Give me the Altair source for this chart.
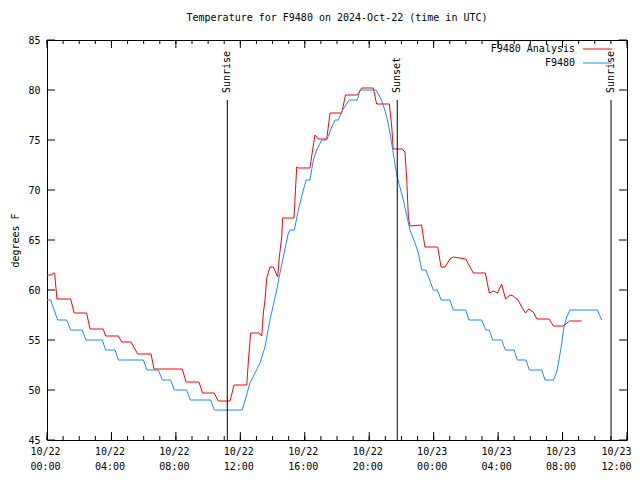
import altair as alt
import pandas as pd

# Hours since 2024-10-22 00:00 UTC and temperature (deg F)
blue_h = [0.00, 0.23, 0.66, 1.22, 1.47, 2.19, 2.42, 3.43, 3.64, 4.22, 4.43, 5.98, 6.21, 6.91,
          7.16, 7.68, 7.90, 8.67, 8.89, 10.16, 10.38, 12.12, 12.60, 13.22, 13.53, 13.84, 14.26,
          14.46, 14.67, 14.98, 15.08, 15.35, 15.60, 15.91, 16.08, 16.32, 16.53, 16.74, 17.05,
          17.36, 17.67, 17.88, 18.08, 18.35, 18.75, 19.26, 19.43, 20.42, 20.67, 20.87, 21.09,
          21.29, 21.49, 21.71, 21.87, 22.12, 22.43, 22.53, 22.84, 23.05, 23.26, 23.52, 23.98,
          24.23, 24.46, 25.01, 25.22, 25.99, 26.19, 26.98, 27.23, 27.45, 27.66, 28.22, 28.45,
          28.99, 29.19, 29.73, 29.94, 30.71, 30.91, 31.43, 31.64, 31.78, 31.95, 32.09, 32.26,
          32.46, 34.16, 34.43]
blue_t = [59, 59, 57, 57, 56, 56, 55, 55, 54, 54, 53, 53, 52, 52,
          51, 51, 50, 50, 49, 49, 48, 48, 50.7, 52.7, 54.3, 57, 60,
          61.7, 63.3, 65.7, 66, 66, 68, 70, 71, 71, 73, 74, 75,
          75, 76.3, 77, 77, 78, 79, 79, 80, 80, 79.3, 78.5, 77.3,
          75.7, 73.7, 71.5, 70.5, 69, 66.7, 66, 64.7, 63.7, 62, 62, 60,
          60, 59, 59, 58, 58, 57, 57, 56, 56, 55, 55, 54,
          54, 53, 53, 52, 52, 51, 51, 51.8, 53, 54.7, 56.3, 57.3,
          58, 58, 57]

red_h = [0.00, 0.29, 0.39, 0.47, 0.62, 1.47, 1.69, 2.46, 2.67, 3.49, 3.64, 4.43, 4.64, 5.21,
         5.63, 6.46, 6.64, 8.40, 8.63, 9.43, 9.66, 10.38, 10.63, 11.36, 11.61, 12.40, 12.49,
         12.64, 13.18, 13.33, 13.43, 13.53, 13.64, 13.84, 14.05, 14.32, 14.42, 14.57, 14.63,
         15.33, 15.50, 15.61, 16.32, 16.63, 16.84, 17.36, 17.57, 18.29, 18.53, 19.26, 19.53,
         20.25, 20.46, 21.25, 21.40, 21.49, 22.05, 22.22, 22.33, 22.43, 22.53, 23.25, 23.46,
         24.25, 24.46, 24.71, 25.01, 25.22, 25.99, 26.46, 27.21, 27.45, 27.70, 27.96, 28.22,
         28.46, 28.74, 28.94, 29.23, 29.47, 29.70, 29.90, 30.18, 30.41, 31.16, 31.43, 32.05,
         32.43, 33.19]
red_t = [61.5, 61.5, 61.7, 61.7, 59.1, 59.1, 57.7, 57.7, 56.1, 56.1, 55.4, 55.4, 54.8, 54.8,
         53.6, 53.6, 52.1, 52.1, 50.8, 50.8, 49.7, 49.7, 48.9, 48.9, 50.5, 50.5, 52.7,
         55.7, 55.7, 55.4, 57.7, 59, 61.2, 62.3, 62.3, 61.3, 63.3, 65.3, 67.2,
         67.2, 72.3, 72.2, 72.2, 75.5, 75.1, 75.1, 77.7, 77.7, 79.5, 79.5, 80.2,
         80.2, 78.6, 78.6, 76.3, 74.1, 74.1, 73.8, 71, 67.3, 66.4, 66.5, 64.3,
         64.3, 62.3, 62.3, 63.1, 63.3, 63.1, 61.7, 61.7, 59.7, 59.9, 59.7, 60.6,
         59.1, 59.5, 59.4, 59.0, 58.3, 57.7, 58.1, 57.8, 57.1, 57.1, 56.4, 56.4,
         56.9, 56.9]

event_h = [11.19, 21.74, 35.01]
event_lbl = ["Sunrise", "Sunset", "Sunrise"]

series_names = ["F9480 Analysis", "F9480"]
series_colors = ["#ff0000", "#1a8cff"]

x_major = list(range(0, 37, 4))
x_minor = list(range(0, 37, 1))
y_major = list(range(45, 86, 5))

W, H = 580, 400
FONT = "DejaVu Sans Mono"
FS = 10

df = pd.concat([
    pd.DataFrame({"h": red_h, "t": red_t, "s": series_names[0]}),
    pd.DataFrame({"h": blue_h, "t": blue_t, "s": series_names[1]}),
])
ev = pd.DataFrame({"h": event_h, "lbl": event_lbl})
xmaj = pd.DataFrame({"h": x_major})
xmin = pd.DataFrame({"h": x_minor})
ymaj = pd.DataFrame({"t": y_major})

xs = alt.Scale(domain=[0, 36], nice=False, zero=False)
ys = alt.Scale(domain=[45, 85], nice=False, zero=False)

label_expr = ("[datum.value < 24 ? '10/22' : '10/23', "
              "(datum.value % 24 < 10 ? '0' : '') + (datum.value % 24) + ':00']")

ax_x = alt.Axis(
    values=x_major, labelExpr=label_expr, ticks=False, domain=False, grid=False,
    labelFont=FONT, labelFontSize=FS, labelColor="black", labelPadding=6,
    labelLineHeight=15, labelFlush=False, labelOverlap=False, labelBound=False,
    labelAlign={"condition": {"test": "datum.value == 36", "value": "right"}, "value": "center"},
    labelOffset={"condition": {"test": "datum.value == 36", "value": 4}, "value": -2},
    title=None)
ax_y = alt.Axis(
    values=y_major, ticks=False, domain=False, grid=False,
    labelFont=FONT, labelFontSize=FS, labelColor="black", labelPadding=7,
    labelOverlap=False, labelFlush=False,
    title="degrees F", titleFont=FONT, titleFontSize=FS, titleFontWeight="normal",
    titleColor="black", titleAngle=270, titleX=-32, titleY=H / 2,
    titleAlign="center", titleBaseline="middle")

X = alt.X("h:Q", scale=xs, axis=ax_x, title=None)
Y = alt.Y("t:Q", scale=ys, axis=ax_y, title="degrees F")

lines = alt.Chart(df).mark_line(strokeWidth=1, clip=True).encode(
    x=X, y=Y,
    color=alt.Color("s:N", scale=alt.Scale(domain=series_names, range=series_colors), legend=None),
)

tick_bot_major = alt.Chart(xmaj).mark_rule(color="black", strokeWidth=1).encode(
    x=X, y=alt.value(H), y2=alt.value(H - 8))
tick_top_major = alt.Chart(xmaj).mark_rule(color="black", strokeWidth=1).encode(
    x=X, y=alt.value(0), y2=alt.value(8))
tick_bot_minor = alt.Chart(xmin).mark_rule(color="black", strokeWidth=1).encode(
    x=X, y=alt.value(H), y2=alt.value(H - 4))
tick_top_minor = alt.Chart(xmin).mark_rule(color="black", strokeWidth=1).encode(
    x=X, y=alt.value(0), y2=alt.value(4))
tick_left = alt.Chart(ymaj).mark_rule(color="black", strokeWidth=1).encode(
    y=Y, x=alt.value(0), x2=alt.value(8))
tick_right = alt.Chart(ymaj).mark_rule(color="black", strokeWidth=1).encode(
    y=Y, x=alt.value(W - 8), x2=alt.value(W))

ev_rule = alt.Chart(ev).mark_rule(color="black", strokeWidth=1).encode(
    x=X, y=alt.value(60), y2=alt.value(H))
ev_text = alt.Chart(ev).mark_text(angle=270, align="left", baseline="middle",
                                  font=FONT, fontSize=FS, color="black").encode(
    x=X, y=alt.value(53), text="lbl:N")

leg_df = pd.DataFrame({"s": series_names, "c": series_colors})
leg_text1 = alt.Chart(leg_df.iloc[[0]]).mark_text(align="right", baseline="middle",
                                                  font=FONT, fontSize=FS, color="black").encode(
    x=alt.value(528), y=alt.value(9), text="s:N")
leg_text2 = alt.Chart(leg_df.iloc[[1]]).mark_text(align="right", baseline="middle",
                                                  font=FONT, fontSize=FS, color="black").encode(
    x=alt.value(528), y=alt.value(23), text="s:N")
leg_line1 = alt.Chart(leg_df.iloc[[0]]).mark_rule(color=series_colors[0], strokeWidth=1).encode(
    x=alt.value(536), x2=alt.value(565), y=alt.value(9))
leg_line2 = alt.Chart(leg_df.iloc[[1]]).mark_rule(color=series_colors[1], strokeWidth=1).encode(
    x=alt.value(536), x2=alt.value(565), y=alt.value(23))

chart = alt.layer(
    lines, tick_bot_minor, tick_top_minor, tick_bot_major, tick_top_major, tick_left, tick_right,
    ev_rule, ev_text, leg_text1, leg_text2, leg_line1, leg_line2,
).properties(
    width=W, height=H,
    title=alt.TitleParams("Temperature for F9480 on 2024-Oct-22 (time in UTC)",
                          font=FONT, fontSize=FS, fontWeight="normal", color="black",
                          anchor="middle", offset=12),
    padding={"left": 39, "top": 32, "right": 5, "bottom": 32},
    autosize=alt.AutoSizeParams(type="none"),
    background="white",
).configure_view(stroke="black", strokeWidth=1)

chart.save("out.html", embed_options={"renderer": "svg", "actions": False})
